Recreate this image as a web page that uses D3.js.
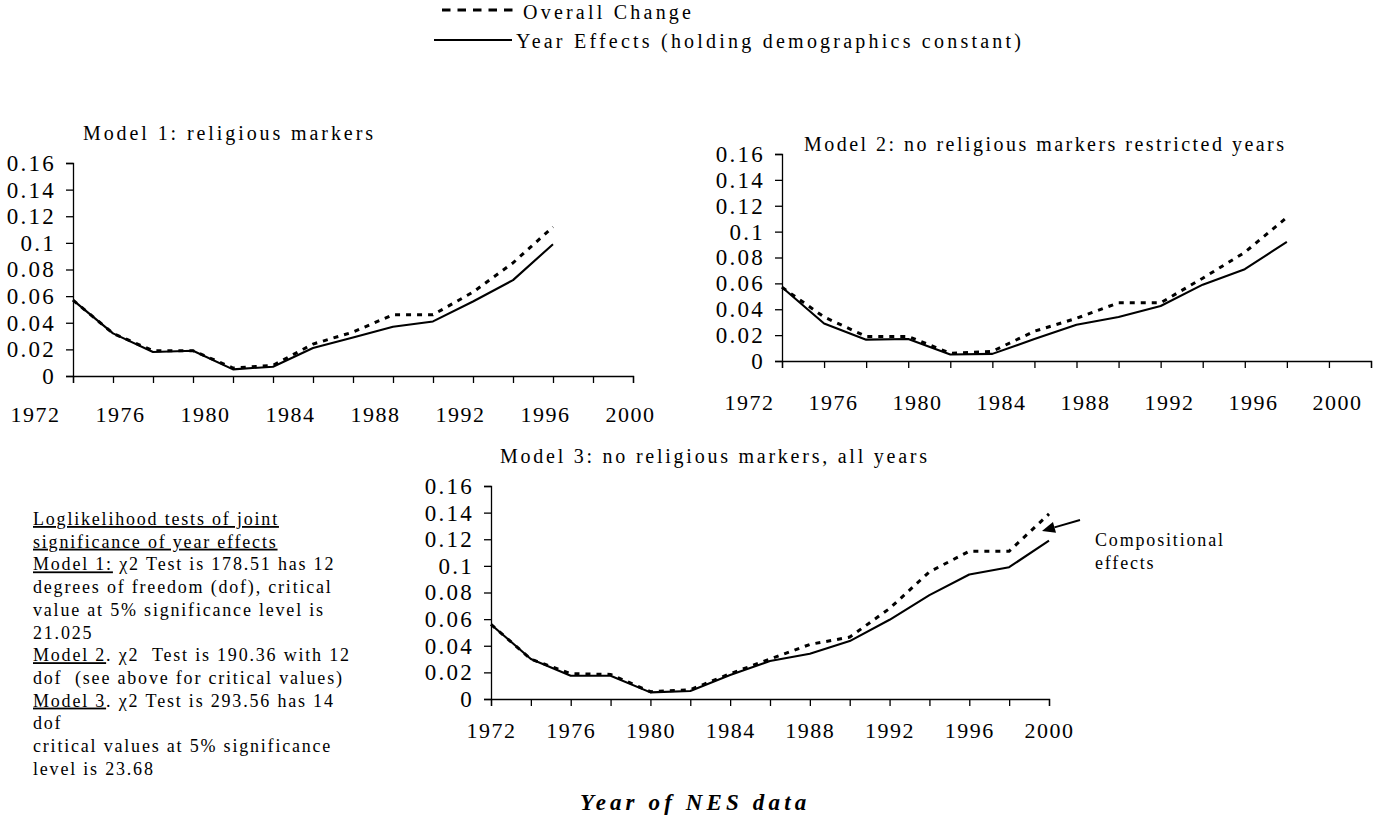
<!DOCTYPE html>
<html>
<head>
<meta charset="utf-8">
<script src="https://cdn.jsdelivr.net/npm/d3@7"></script>
<style>
body { margin: 0; background: #fff; }
svg text { white-space: pre; }
</style>
</head>
<body>
<script>
// category axis: NES years, one tick every 2 years
var years = [1972, 1974, 1976, 1978, 1980, 1982, 1984, 1986, 1988, 1990, 1992, 1994, 1996, 1998, 2000];
var labelYears = [1972, 1976, 1980, 1984, 1988, 1992, 1996, 2000];
var yTicks = [0, 0.02, 0.04, 0.06, 0.08, 0.1, 0.12, 0.14, 0.16];

// Model 1: religious markers (1972-1996)
var m1Overall = [0.057, 0.032, 0.019, 0.019, 0.006, 0.008, 0.024, 0.033, 0.046, 0.046, 0.063, 0.085, 0.112];
var m1Year    = [0.057, 0.032, 0.018, 0.019, 0.005, 0.007, 0.021, 0.029, 0.037, 0.041, 0.056, 0.072, 0.099];

// Model 2: no religious markers, restricted years (1972-1996)
var m2Overall = [0.057, 0.034, 0.019, 0.019, 0.006, 0.0075, 0.023, 0.033, 0.045, 0.045, 0.064, 0.084, 0.111];
var m2Year    = [0.057, 0.029, 0.0165, 0.017, 0.005, 0.0055, 0.017, 0.028, 0.034, 0.0425, 0.059, 0.071, 0.092];

// Model 3: no religious markers, all years (1972-2000)
var m3Overall = [0.056, 0.030, 0.019, 0.0185, 0.0055, 0.007, 0.019, 0.030, 0.041, 0.0465, 0.068, 0.0955, 0.111, 0.111, 0.139];
var m3Year    = [0.056, 0.030, 0.0175, 0.0175, 0.005, 0.006, 0.018, 0.0285, 0.034, 0.0435, 0.0595, 0.078, 0.0935, 0.099, 0.119];

var titles = ["Model 1: religious markers",
              "Model 2: no religious markers restricted years",
              "Model 3: no religious markers, all years"];
var legendLabels = ["Overall Change", "Year Effects (holding demographics constant)"];

// note block, each line as [text, underlined] pieces
var notes = [
    [["Loglikelihood tests of joint", true]],
    [["significance of year effects", true]],
    [["Model 1:", true], [" \u03c72 Test is 178.51 has 12", false]],
    [["degrees of freedom (dof), critical", false]],
    [["value at 5% significance level is", false]],
    [["21.025", false]],
    [["Model 2", true], [". \u03c72  Test is 190.36 with 12", false]],
    [["dof  (see above for critical values)", false]],
    [["Model 3", true], [". \u03c72 Test is 293.56 has 14", false]],
    [["dof", false]],
    [["critical values at 5% significance", false]],
    [["level is 23.68", false]]
];
var annotation = ["Compositional", "effects"];
var xTitle = "Year of NES data";

var FONT = "'Liberation Serif', 'Times New Roman', Times, 'DejaVu Serif', serif";
var svgWidth = 1374, svgHeight = 817;

var svg = d3.select("body").append("svg")
    .attr("width", svgWidth)
    .attr("height", svgHeight);

// hidden text used to measure strings, so letter spacing can match the picture
var meas = svg.append("text").attr("font-family", FONT).attr("visibility", "hidden");
function textWidth(str, size, weight, style) {
    meas.attr("font-size", size)
        .attr("font-weight", weight || "normal")
        .attr("font-style", style || "normal")
        .text(str);
    return meas.node().getComputedTextLength();
}
function spacingFor(str, size, target, weight, style) {
    return (target - textWidth(str, size, weight, style)) / (str.length - 1);
}

var lsY = spacingFor("0.16", 23, 47);
var lsX = spacingFor("1972", 22, 48.5);

// panel layouts
var panels = [
    {title: titles[0], overall: m1Overall, year: m1Year,
     x0: 73, x1: 633, yTop: 163, yBot: 376, lab: [35, 630], labY: 422,
     tx: 83, ty: 140, tw: 290},
    {title: titles[1], overall: m2Overall, year: m2Year,
     x0: 782, x1: 1371, yTop: 154, yBot: 361, lab: [749, 1337], labY: 410,
     tx: 804, ty: 151, tw: 480},
    {title: titles[2], overall: m3Overall, year: m3Year,
     x0: 491, x1: 1049, yTop: 486, yBot: 699, lab: [491, 1049], labY: 738,
     tx: 500, ty: 463, tw: 427}
];

function drawPanel(p) {
    var x = d3.scaleLinear().domain([1972, 2000]).range([p.x0, p.x1]);
    var y = d3.scaleLinear().domain([0, 0.16]).range([p.yBot, p.yTop]);

    // y axis
    var yAxis = svg.append("g")
        .attr("transform", `translate(${p.x0},0)`)
        .call(d3.axisLeft(y).tickValues(yTicks).tickSize(7).tickPadding(10)
            .tickFormat(d => String(+d.toFixed(2))));
    yAxis.attr("font-family", FONT).attr("font-size", 23);
    yAxis.selectAll("text").style("letter-spacing", lsY + "px").attr("fill", "#000");
    yAxis.selectAll("path, line").attr("stroke", "#000").attr("stroke-width", 1.3);

    // x axis, ticks only
    var xAxis = svg.append("g")
        .attr("transform", `translate(0,${p.yBot})`)
        .call(d3.axisBottom(x).tickValues(years).tickSize(7).tickFormat(""));
    xAxis.selectAll("path, line").attr("stroke", "#000").attr("stroke-width", 1.3);

    // year labels (set slightly apart from the ticks, as in the source)
    var xl = d3.scaleLinear().domain([1972, 2000]).range(p.lab);
    var labAxis = svg.append("g")
        .attr("transform", `translate(0,${p.labY})`)
        .call(d3.axisBottom(xl).tickValues(labelYears).tickSize(0).tickFormat(d3.format("d")));
    labAxis.select(".domain").remove();
    labAxis.attr("font-family", FONT).attr("font-size", 22);
    labAxis.selectAll("text").attr("y", 0).attr("dy", 0)
        .attr("fill", "#000").style("letter-spacing", lsX + "px");

    // title
    svg.append("text")
        .attr("x", p.tx).attr("y", p.ty)
        .attr("font-family", FONT).attr("font-size", 20)
        .style("letter-spacing", spacingFor(p.title, 20, p.tw) + "px")
        .text(p.title);

    var line = d3.line()
        .x((d, i) => x(years[i]))
        .y(d => y(d));

    svg.append("path")
        .datum(p.year)
        .attr("d", line)
        .attr("fill", "none")
        .attr("stroke", "#000")
        .attr("stroke-width", 2.1)
        .attr("stroke-linejoin", "round");

    svg.append("path")
        .datum(p.overall)
        .attr("d", line)
        .attr("fill", "none")
        .attr("stroke", "#000")
        .attr("stroke-width", 3)
        .attr("stroke-dasharray", "5,6");
}

panels.forEach(drawPanel);

// legend
var lsLeg = spacingFor("Year Effects (holding demogr", 20, 324);
svg.append("line")
    .attr("x1", 442).attr("x2", 514).attr("y1", 10).attr("y2", 10)
    .attr("stroke", "#000").attr("stroke-width", 3)
    .attr("stroke-dasharray", "8.5,7");
svg.append("text")
    .attr("x", 523).attr("y", 19)
    .attr("font-family", FONT).attr("font-size", 20)
    .style("letter-spacing", lsLeg + "px")
    .text(legendLabels[0]);
svg.append("line")
    .attr("x1", 434).attr("x2", 512).attr("y1", 40).attr("y2", 40)
    .attr("stroke", "#000").attr("stroke-width", 2);
svg.append("text")
    .attr("x", 516).attr("y", 48)
    .attr("font-family", FONT).attr("font-size", 20)
    .style("letter-spacing", lsLeg + "px")
    .text(legendLabels[1]);

// note block on the left
var lsNote = spacingFor("Model 2. \u03c72  Test is 190.36 with 12", 18, 316);
var noteText = svg.append("g")
    .attr("font-family", FONT).attr("font-size", 18)
    .style("letter-spacing", lsNote + "px");
notes.forEach(function(pieces, i) {
    var t = noteText.append("text").attr("x", 33).attr("y", 525 + i * 22.7);
    pieces.forEach(function(pc) {
        t.append("tspan")
            .style("text-decoration", pc[1] ? "underline" : "none")
            .text(pc[0]);
    });
});

// compositional effects annotation
var lsAnn = spacingFor(annotation[0], 18, 128);
annotation.forEach(function(s, i) {
    svg.append("text")
        .attr("x", 1095).attr("y", 546 + i * 22.5)
        .attr("font-family", FONT).attr("font-size", 18)
        .style("letter-spacing", lsAnn + "px")
        .text(s);
});
var tail = [1080, 520], tip = [1042, 531];
var ang = Math.atan2(tip[1] - tail[1], tip[0] - tail[0]);
var headLen = 13, headW = 5.5;
var base = [tip[0] - headLen * Math.cos(ang), tip[1] - headLen * Math.sin(ang)];
svg.append("line")
    .attr("x1", tail[0]).attr("y1", tail[1]).attr("x2", base[0]).attr("y2", base[1])
    .attr("stroke", "#000").attr("stroke-width", 2);
svg.append("path")
    .attr("d", d3.line()([
        tip,
        [base[0] + headW * Math.sin(ang), base[1] - headW * Math.cos(ang)],
        [base[0] - headW * Math.sin(ang), base[1] + headW * Math.cos(ang)]
    ]) + "Z")
    .attr("fill", "#000");

// bottom axis title
svg.append("text")
    .attr("x", 580).attr("y", 810)
    .attr("font-family", FONT).attr("font-size", 23)
    .attr("font-weight", "bold").attr("font-style", "italic")
    .style("letter-spacing", spacingFor("Year of NES da", 23, 200, "bold", "italic") + "px")
    .text(xTitle);

meas.remove();
</script>
</body>
</html>
